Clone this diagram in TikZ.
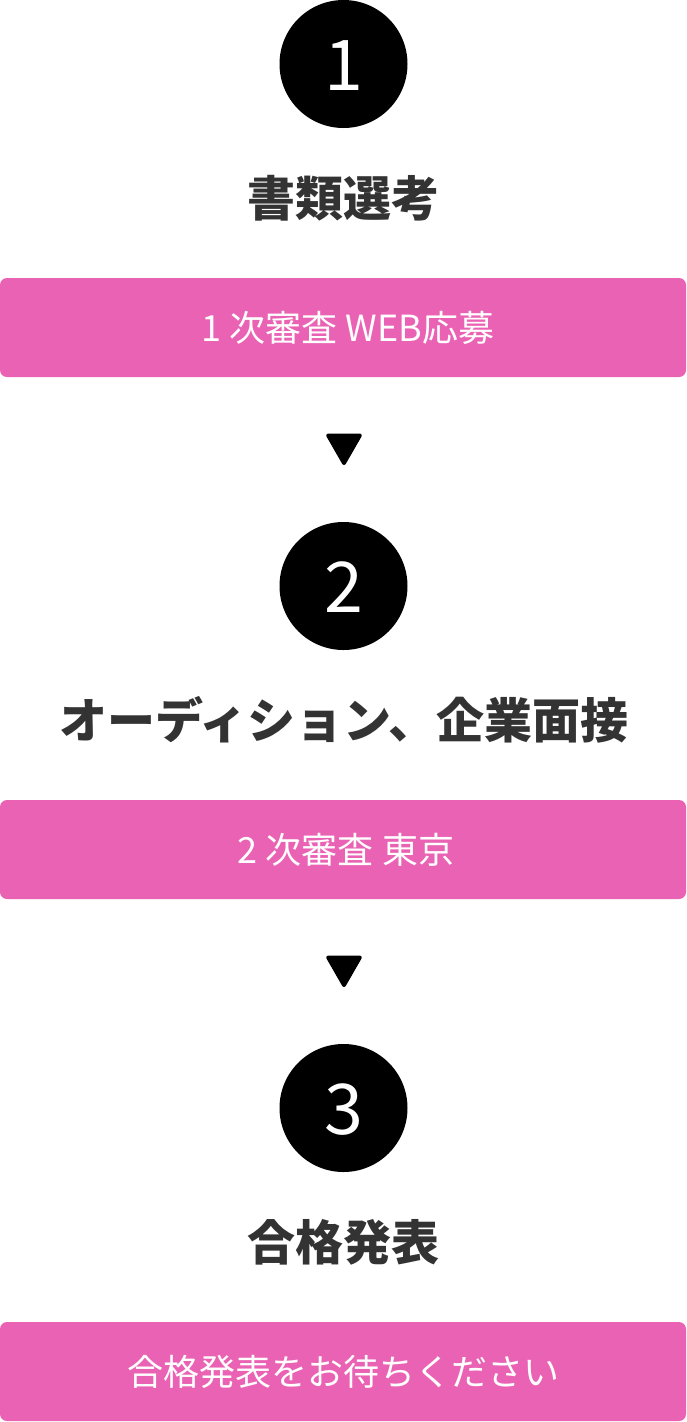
\documentclass[tikz,border=0pt]{standalone}
\usepackage{fontspec}
\newfontfamily\jp{Noto Sans CJK JP}
\definecolor{barpink}{HTML}{EA62B4}
\definecolor{titlegray}{HTML}{333333}
\tikzset{
  numcircle/.style={circle, fill=black, minimum size=128pt, inner sep=0pt},
  numtext/.style={anchor=base, text=white, font=\jp\fontsize{70}{70}\selectfont, inner sep=0pt},
  titletext/.style={anchor=base, text=titlegray, font=\jp\bfseries\fontsize{48}{48}\selectfont, inner sep=0pt},
  bar/.style={fill=barpink, rounded corners=7pt},
  bartext/.style={anchor=base, text=white, font=\jp\fontsize{36}{36}\selectfont, inner sep=0pt},
  downtri/.style={fill=black, draw=black, line width=2pt, line join=round, rounded corners=2pt}
}
\begin{document}
\begin{tikzpicture}[x=1pt, y=-1pt]
\useasboundingbox (0,0) rectangle (686,1422);
\fill[white] (0,0) rectangle (686,1422);
% section 1
\node[numcircle] (c1) at (343.5,64) {};
\node[numtext] (n1) at (343.5,90) {1};
\node[titletext] (t1) at (343,216) {書類選考};
\fill[bar] (0,278) rectangle (686,377);
\node[bartext] (b1) at (348,341) {1 次審査 WEB応募};
\filldraw[downtri] (326.5,434.5) -- (361.5,434.5) -- (344,465) -- cycle;
% section 2
\node[numcircle] (c2) at (343.5,586) {};
\node[numtext] (n2) at (343.5,612) {2};
\node[titletext] (t2) at (344,738) {オーディション、企業面接};
\fill[bar] (0,800) rectangle (686,899);
\node[bartext] (b2) at (346,863) {2 次審査 東京};
\filldraw[downtri] (326.5,956.5) -- (361.5,956.5) -- (344,987) -- cycle;
% section 3
\node[numcircle] (c3) at (343.5,1108) {};
\node[numtext] (n3) at (343.5,1134) {3};
\node[titletext] (t3) at (343,1260) {合格発表};
\fill[bar] (0,1322) rectangle (686,1421);
\node[bartext] (b3) at (343,1385) {合格発表をお待ちください};
\end{tikzpicture}
\end{document}
